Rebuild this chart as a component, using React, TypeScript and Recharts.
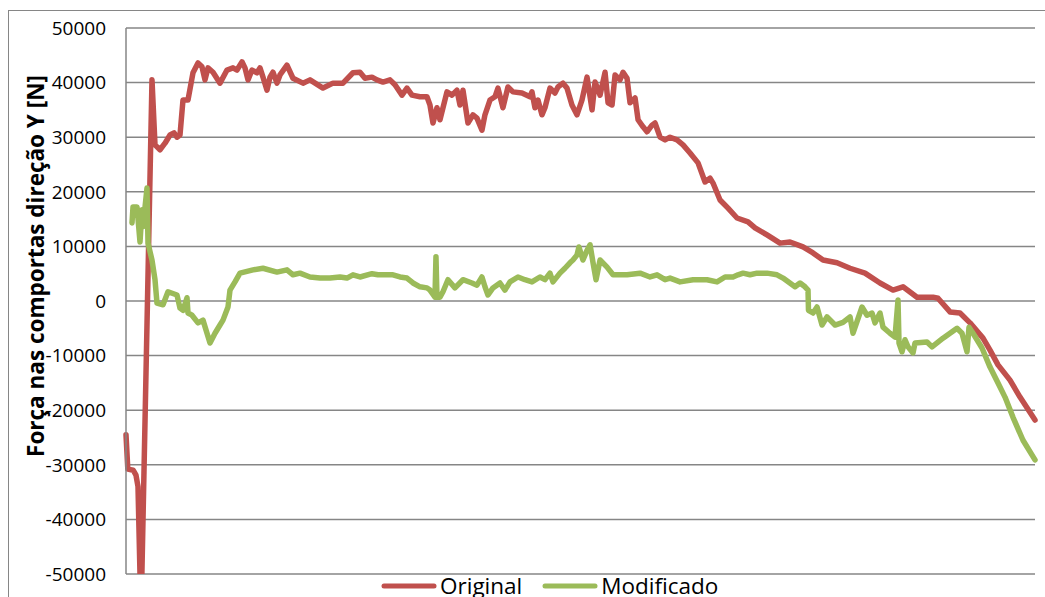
import { LineChart, Line, XAxis, YAxis, CartesianGrid, Legend, Label } from "recharts"

const FONT = "'Open Sans', sans-serif"
const GRID = "#868686"

// abscissa runs 0..100 across the plot
const originalT = [
  0, 0.2, 0.8, 1.1, 1.32, 1.65, 2.86, 3.19, 3.74, 4.29,
  4.84, 5.28, 5.61, 5.94, 6.27, 6.82, 7.37, 7.92, 8.36, 8.69,
  9.02, 9.57, 10.34, 11.11, 11.77, 12.21, 12.76, 13.09, 13.42, 13.86,
  14.41, 14.74, 15.07, 15.51, 15.84, 16.17, 16.61, 16.94, 17.71, 18.37,
  19.47, 20.24, 21.67, 22.77, 23.87, 24.97, 25.74, 26.29, 27.06, 27.61,
  28.27, 29.04, 29.59, 30.36, 30.91, 31.46, 32.34, 33.11, 33.44, 33.77,
  34.21, 34.54, 35.31, 35.86, 36.41, 36.74, 37.07, 37.62, 38.17, 38.61,
  39.16, 39.49, 40.04, 40.59, 40.92, 41.47, 42.02, 42.57, 43.56, 44.44,
  44.66, 44.99, 45.32, 45.76, 46.09, 46.64, 47.19, 47.52, 48.07, 48.51,
  49.06, 49.61, 50.16, 50.72, 51.27, 51.6, 52.15, 52.7, 53.03, 53.47,
  53.8, 54.35, 54.68, 55.12, 55.45, 56.0, 56.33, 56.88, 57.32, 57.87,
  58.2, 58.75, 59.3, 59.85, 60.62, 61.28, 62.05, 62.93, 63.7, 64.25,
  64.58, 65.35, 66.23, 67.22, 68.43, 69.2, 70.52, 71.95, 73.05, 74.48,
  75.58, 76.68, 78.22, 79.65, 81.3, 82.95, 84.38, 85.48, 87.02, 88.78,
  89.33, 90.65, 91.75, 92.85, 94.28, 95.05, 95.93, 97.25, 98.35, 100,
]
const originalV = [
  -24500, -30800, -31000, -31900, -34000, -58000, 40500, 28600, 27700, 28900,
  30400, 30800, 30000, 30400, 36800, 36800, 41800, 43600, 42900, 40500,
  42700, 41900, 39900, 42300, 42700, 42300, 43800, 42700, 40500, 42300,
  41800, 42700, 41000, 38600, 41000, 41900, 39900, 41400, 43200, 40800,
  39900, 40500, 39000, 39900, 39900, 41800, 41900, 40800, 41000, 40500,
  40100, 40500, 39600, 37700, 39000, 37700, 37400, 37400, 35900, 32600,
  35400, 33200, 38300, 37700, 38600, 35900, 38600, 32600, 34100, 33500,
  31300, 34100, 36800, 37400, 39000, 35400, 39200, 38300, 38100, 37400,
  38300, 35400, 36800, 34100, 35400, 39000, 38100, 39200, 39900, 39000,
  35900, 34100, 36800, 41000, 35000, 40100, 37700, 41900, 36300, 35900,
  41400, 40500, 41900, 40800, 36300, 37200, 33200, 31900, 31000, 32200,
  32600, 30000, 29500, 30000, 29500, 28600, 27100, 25300, 21800, 22500,
  21600, 18500, 17000, 15200, 14500, 13400, 12100, 10600, 10800, 9900,
  8800, 7500, 7000, 6000, 5100, 3300, 2000, 2600, 700, 700,
  500, -2000, -2200, -4000, -6800, -9000, -11700, -14500, -17600, -21800,
]

const modificadoT = [
  0.66, 0.77, 1.21, 1.54, 1.76, 1.87, 2.31, 2.42, 2.86, 3.19,
  3.41, 4.07, 4.62, 5.61, 5.94, 6.27, 6.71, 6.82, 7.26, 7.92,
  8.47, 9.24, 9.79, 10.34, 10.67, 11.22, 11.44, 11.99, 12.54, 13.97,
  15.07, 16.61, 17.71, 18.37, 19.14, 20.24, 21.34, 22.44, 23.54, 24.31,
  24.97, 25.74, 27.06, 27.72, 28.71, 29.37, 30.14, 30.91, 31.57, 32.34,
  33.11, 33.44, 33.99, 34.1, 34.21, 34.54, 34.87, 35.42, 36.19, 37.07,
  38.06, 38.61, 39.16, 39.49, 39.82, 40.37, 41.14, 41.69, 42.24, 43.12,
  43.89, 44.66, 45.54, 46.09, 46.64, 46.97, 47.74, 48.29, 48.84, 49.17,
  49.61, 49.83, 50.27, 50.72, 51.05, 51.38, 51.71, 52.15, 52.92, 53.58,
  55.12, 56.55, 57.65, 58.42, 59.3, 59.85, 60.95, 62.38, 63.92, 65.02,
  65.9, 66.78, 67.33, 67.88, 68.65, 69.42, 70.52, 71.62, 72.28, 73.6,
  74.15, 74.7, 75.03, 75.08, 75.58, 76.02, 76.57, 77.12, 78.0, 78.88,
  79.65, 79.98, 80.97, 81.52, 82.07, 82.4, 82.95, 83.28, 84.05, 84.6,
  84.93, 85.04, 85.37, 85.7, 86.03, 86.58, 86.8, 88.12, 88.67, 89.88,
  91.42, 91.97, 92.52, 92.74, 93.18, 94.17, 95.05, 95.93, 96.7, 97.58,
  98.68, 100,
]
const modificadoV = [
  14300, 17200, 17200, 10800, 16700, 13600, 20700, 10600, 7500, 3900,
  -400, -700, 1700, 1100, -1300, -1700, 600, -2200, -2600, -4000,
  -3500, -7700, -5900, -4400, -3500, -1100, 2000, 3500, 5100, 5700,
  6000, 5300, 5700, 4800, 5100, 4400, 4200, 4200, 4400, 4200,
  4800, 4400, 5000, 4800, 4800, 4800, 4400, 4200, 3300, 2600,
  2400, 2000, 700, 8100, 700, 700, 1700, 3900, 2400, 3900,
  3300, 2900, 4400, 2600, 1100, 2400, 3300, 2000, 3500, 4400,
  3900, 3500, 4400, 3900, 5100, 3500, 5100, 6000, 7000, 7500,
  8400, 9900, 7500, 9300, 10300, 7000, 3900, 7500, 6200, 4800,
  4800, 5100, 4400, 4800, 3900, 4200, 3500, 3900, 3900, 3500,
  4400, 4400, 4800, 5100, 4800, 5100, 5100, 4800, 4200, 2600,
  3300, 2600, 2000, -1700, -2200, -1100, -4400, -2900, -4400, -3900,
  -2900, -5900, -1100, -2600, -2200, -4000, -2200, -4800, -5900, -6600,
  200, -7700, -9300, -7100, -8400, -9500, -7700, -7500, -8400, -6800,
  -5000, -5900, -9300, -4800, -5900, -8600, -12100, -15000, -17600, -21300,
  -25500, -29100,
]

const yTicks = [-50000, -40000, -30000, -20000, -10000, 0, 10000, 20000, 30000, 40000, 50000]

const SERIES = [
  { name: "Original", color: "#C0504D", t: originalT, v: originalV },
  { name: "Modificado", color: "#9BBB59", t: modificadoT, v: modificadoV },
]

const toPoints = (t: number[], v: number[]) => t.map((x, i) => ({ t: x, v: v[i] }))

function LegendRow() {
  return (
    <div
      style={{
        display: "flex",
        alignItems: "center",
        paddingLeft: 381,
        fontFamily: FONT,
        fontSize: 22.5,
        color: "#000",
      }}
    >
      {SERIES.map((s, i) => (
        <div key={s.name} style={{ display: "flex", alignItems: "center", marginLeft: i ? 20 : 0 }}>
          <svg width={56} height={8}>
            <line x1={3} y1={4} x2={53} y2={4} stroke={s.color} strokeWidth={5} strokeLinecap="round" />
          </svg>
          <span style={{ marginLeft: 3, lineHeight: "30px" }}>{s.name}</span>
        </div>
      ))}
    </div>
  )
}

function AxisTitle() {
  return (
    <text
      x={35}
      y={266}
      transform="rotate(-90, 35, 266)"
      textAnchor="middle"
      dominantBaseline="central"
      style={{ fontFamily: FONT, fontSize: 22.5, fontWeight: 700, fill: "#000" }}
    >
      Força nas comportas direção Y [N]
    </text>
  )
}

export default function App() {
  return (
    <div
      style={{
        position: "fixed",
        left: 0,
        top: 0,
        width: 1045,
        height: 597,
        overflow: "hidden",
        background: "#fff",
      }}
    >
      <div
        style={{
          position: "absolute",
          left: 8,
          top: 10,
          width: 1200,
          height: 800,
          border: `1px solid ${GRID}`,
        }}
      />
      <div style={{ position: "absolute", left: 0, top: 0 }}>
        <LineChart width={1045} height={597} margin={{ top: 28, right: 10, bottom: 23, left: 0 }}>
          <CartesianGrid vertical={false} stroke={GRID} strokeWidth={1.5} />
          <XAxis dataKey="t" type="number" domain={[0, 100]} hide />
          <YAxis
            type="number"
            domain={[-50000, 50000]}
            ticks={yTicks}
            interval={0}
            allowDataOverflow
            width={126}
            tickLine={false}
            tickMargin={14}
            axisLine={{ stroke: GRID, strokeWidth: 1.5 }}
            tick={{ fill: "#000", fontSize: 19, fontFamily: FONT }}
          >
            <Label content={() => <AxisTitle />} />
          </YAxis>
          {SERIES.map((s) => (
            <Line
              key={s.name}
              name={s.name}
              data={toPoints(s.t, s.v)}
              dataKey="v"
              type="linear"
              stroke={s.color}
              strokeWidth={5.5}
              strokeLinejoin="round"
              strokeLinecap="round"
              dot={false}
              activeDot={false}
              isAnimationActive={false}
            />
          ))}
          <Legend
            verticalAlign="middle"
            content={() => <LegendRow />}
            wrapperStyle={{ top: 571, left: 0, width: 1045 }}
          />
        </LineChart>
      </div>
    </div>
  )
}
